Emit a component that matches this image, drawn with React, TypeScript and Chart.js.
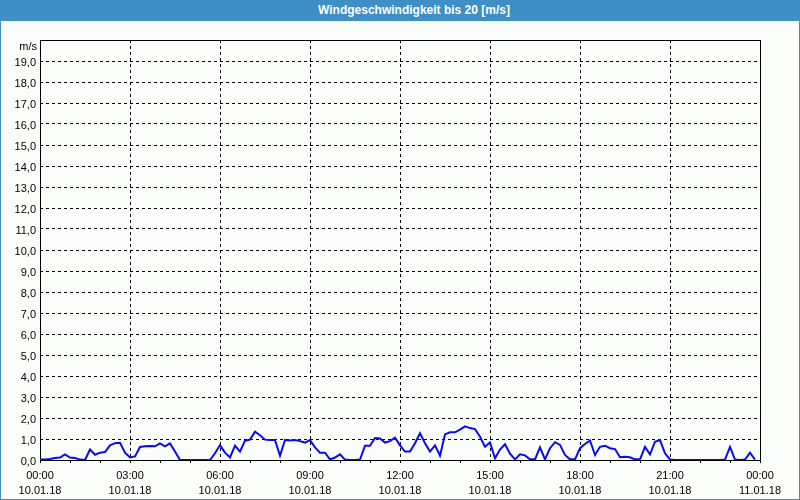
import React, { useEffect, useRef } from "react";
import { Chart, registerables } from "chart.js";

Chart.register(...registerables);

const TITLE = "Windgeschwindigkeit bis 20 [m/s]";
const UNIT = "m/s";
const SAMPLE_MINUTES = 10;

// wind speed [m/s], one value per 10 minutes from 00:00 to 23:50
const windSpeed: number[] = [
  0.02, 0.02, 0.05, 0.1, 0.12, 0.27, 0.12, 0.1, 0.02, 0.0,
  0.5, 0.25, 0.35, 0.38, 0.7, 0.8, 0.82, 0.35, 0.12, 0.17,
  0.62, 0.65, 0.67, 0.65, 0.79, 0.65, 0.79, 0.4, 0, 0,
  0, 0, 0, 0, 0, 0.32, 0.71, 0.35, 0.12, 0.68,
  0.4, 0.92, 0.97, 1.35, 1.18, 0.97, 0.95, 0.95, 0.2, 0.95,
  0.93, 0.95, 0.9, 0.83, 0.95, 0.6, 0.35, 0.35, 0.03, 0.12,
  0.27, 0.02, 0, 0, 0.02, 0.68, 0.68, 1.05, 1.03, 0.83,
  0.9, 1.06, 0.7, 0.4, 0.4, 0.8, 1.27, 0.8, 0.4, 0.7,
  0.2, 1.22, 1.32, 1.32, 1.45, 1.6, 1.52, 1.47, 1.11, 0.63,
  0.83, 0.08, 0.5, 0.75, 0.3, 0.03, 0.27, 0.22, 0.03, 0.03,
  0.6, 0.03, 0.56, 0.85, 0.72, 0.24, 0.03, 0.03, 0.56, 0.76,
  0.93, 0.24, 0.63, 0.68, 0.56, 0.52, 0.13, 0.16, 0.13, 0.03,
  0.03, 0.62, 0.27, 0.87, 0.95, 0.32, 0.03, 0, 0, 0,
  0, 0, 0, 0, 0, 0, 0, 0.02, 0.62, 0.02,
  0, 0.02, 0.35, 0.02,
];

// labelled ticks every 3 hours (minutes since 10.01.18 00:00)
const tickMinutes: number[] = [0, 180, 360, 540, 720, 900, 1080, 1260, 1440];
const tickTimes: string[] = ["00:00", "03:00", "06:00", "09:00", "12:00", "15:00", "18:00", "21:00", "00:00"];
const tickDates: string[] = ["10.01.18", "10.01.18", "10.01.18", "10.01.18", "10.01.18", "10.01.18", "10.01.18", "10.01.18", "11.01.18"];

const Y_MIN = 0;
const Y_MAX = 20;

const FONT = "'Liberation Sans', Arial, sans-serif";
const BLUE_FRAME = "#3d8fc6";

export default function App() {
  const canvasRef = useRef<HTMLCanvasElement | null>(null);

  useEffect(() => {
    document.body.style.margin = "0";
    const canvas = canvasRef.current;
    if (!canvas) return;

    const framePlugin = {
      id: "framePlugin",
      beforeDatasetsDraw(chart: any) {
        const { ctx, chartArea } = chart;
        ctx.save();
        ctx.strokeStyle = "#000";
        ctx.lineWidth = 1;
        ctx.setLineDash([]);
        ctx.strokeRect(
          chartArea.left + 0.5,
          chartArea.top + 0.5,
          chartArea.right - chartArea.left,
          chartArea.bottom - chartArea.top
        );
        ctx.fillStyle = "#000";
        ctx.font = `11px ${FONT}`;
        ctx.textAlign = "right";
        ctx.textBaseline = "alphabetic";
        ctx.fillText(UNIT, chartArea.left - 3, chartArea.top + 10);
        ctx.restore();
      },
    };

    const chart = new Chart(canvas, {
      type: "line",
      data: {
        datasets: [
          {
            data: windSpeed.map((v, i) => ({ x: i * SAMPLE_MINUTES, y: v })),
            borderColor: "#0a0aee",
            borderWidth: 2,
            pointRadius: 0,
            tension: 0,
            fill: false,
          },
        ],
      },
      options: {
        animation: false,
        responsive: false,
        devicePixelRatio: 1,
        layout: { padding: { left: 0, top: 40, right: 40, bottom: 4 } },
        plugins: {
          legend: { display: false },
          title: { display: false },
          tooltip: { enabled: false },
        },
        scales: {
          x: {
            type: "linear",
            min: tickMinutes[0],
            max: tickMinutes[tickMinutes.length - 1],
            afterFit: (s: any) => {
              s.height = 36;
            },
            border: { display: false, dash: [3, 3] },
            grid: {
              color: (ctx: any) =>
                ctx.tick && tickMinutes.includes(ctx.tick.value) ? "#000" : "rgba(0,0,0,0)",
              tickColor: "#000",
              tickLength: 3,
              tickBorderDash: [],
              lineWidth: 1,
            },
            ticks: {
              stepSize: 60,
              autoSkip: false,
              maxRotation: 0,
              minRotation: 0,
              padding: 5,
              color: "#000",
              font: { family: FONT, size: 11, lineHeight: "15px" } as any,
              callback: (value: any) => {
                const idx = tickMinutes.indexOf(Number(value));
                return idx >= 0 ? [tickTimes[idx], tickDates[idx]] : "";
              },
            },
          },
          y: {
            min: Y_MIN,
            max: Y_MAX,
            afterFit: (s: any) => {
              s.width = 40;
            },
            border: { display: false, dash: [3, 3] },
            grid: {
              color: "#000",
              lineWidth: 1,
              drawTicks: false,
            },
            ticks: {
              stepSize: 1,
              padding: 4,
              labelOffset: 2,
              color: "#000",
              font: { family: FONT, size: 11 },
              callback: (value: any) =>
                Number(value) >= Y_MAX ? "" : Number(value).toFixed(1).replace(".", ","),
            },
          },
        },
      },
      plugins: [framePlugin],
    });

    return () => chart.destroy();
  }, []);

  return (
    <div
      style={{
        position: "relative",
        width: 800,
        height: 500,
        background: "#fbfdfb",
        overflow: "hidden",
      }}
    >
      <div
        style={{
          position: "absolute",
          left: 0,
          top: 0,
          width: 800,
          height: 21,
          background: BLUE_FRAME,
          color: "#fff",
          fontFamily: FONT,
          fontWeight: "bold",
          fontSize: 12,
          lineHeight: "21px",
          textAlign: "center",
          paddingLeft: 28,
          boxSizing: "border-box",
        }}
      >
        {TITLE}
      </div>
      <canvas
        ref={canvasRef}
        width={800}
        height={500}
        style={{ position: "absolute", left: 0, top: 0, width: 800, height: 500 }}
      />
      <div
        style={{
          position: "absolute",
          left: 0,
          top: 0,
          width: 800,
          height: 500,
          border: `1px solid ${BLUE_FRAME}`,
          boxSizing: "border-box",
          pointerEvents: "none",
        }}
      />
    </div>
  );
}
